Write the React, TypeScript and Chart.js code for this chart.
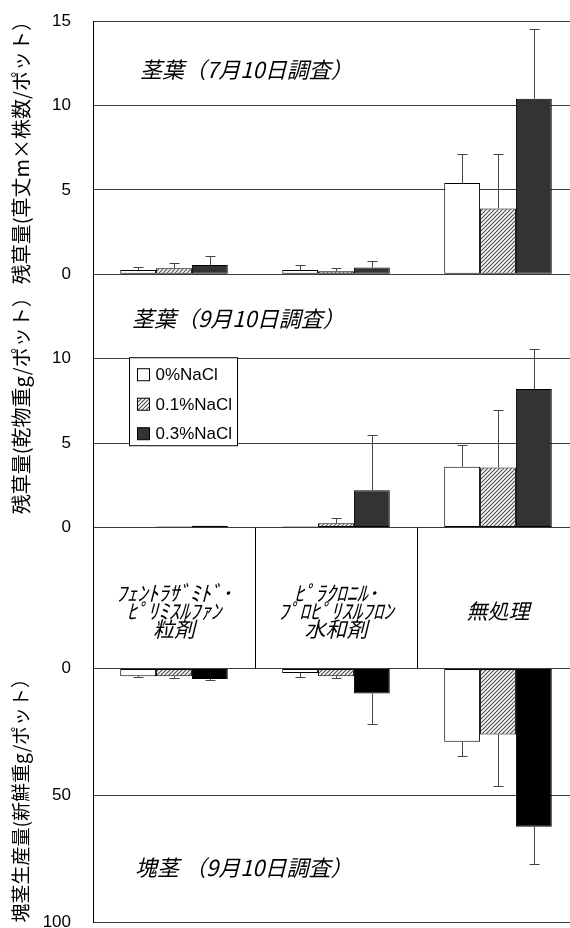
import React, { useEffect, useRef } from "react";
import { Chart, registerables } from "chart.js";

Chart.register(...registerables);

// ---- data ----
const categories: string[][] = [
  ["ﾌｪﾝﾄﾗｻﾞﾐﾄﾞ･", "ﾋﾟﾘﾐｽﾙﾌｧﾝ", "粒剤"],
  ["ﾋﾟﾗｸﾛﾆﾙ･", "ﾌﾟﾛﾋﾟﾘｽﾙﾌﾛﾝ", "水和剤"],
  ["無処理"],
];
const seriesNames = ["0%NaCl", "0.1%NaCl", "0.3%NaCl"];

// 茎葉（7月10日調査）
const julyNaCl0 = [0.25, 0.25, 5.4];
const julyNaCl1 = [0.35, 0.18, 3.9];
const julyNaCl3 = [0.55, 0.4, 10.4];
const julyErr0 = [0.2, 0.3, 1.7];
const julyErr1 = [0.3, 0.2, 3.2];
const julyErr3 = [0.5, 0.4, 4.15];

// 茎葉（9月10日調査）
const sepNaCl0 = [0.02, 0.05, 3.6];
const sepNaCl1 = [0.05, 0.25, 3.55];
const sepNaCl3 = [0.1, 2.2, 8.2];
const sepErr0 = [0, 0, 1.3];
const sepErr1 = [0, 0.3, 3.4];
const sepErr3 = [0, 3.3, 2.35];

// 塊茎（9月10日調査）
const tuberNaCl0 = [3.0, 1.7, 28.8];
const tuberNaCl1 = [3.0, 3.0, 25.9];
const tuberNaCl3 = [4.1, 9.8, 62.2];
const tuberErr0 = [0.5, 1.6, 5.4];
const tuberErr1 = [0.8, 0.8, 20.2];
const tuberErr3 = [0.2, 12.1, 14.6];

const panelTitles = ["茎葉（7月10日調査）", "茎葉（9月10日調査）", "塊茎 （9月10日調査）"];
const axisTitles = ["残草量(草丈m×株数/ポット）", "残草量(乾物重g/ポット）", "塊茎生産量(新鮮重g/ポット）"];
const topAxisMax = 15;
const midAxisMax = 15;
const leafStep = 5;
const tuberAxisMax = 100;
const tuberStep = 50;

// ---- style ----
const JP = "'Noto Sans CJK JP', 'Noto Sans', sans-serif";
const LAT = "'Liberation Sans', Arial, sans-serif";
const GRID = "#3a3a3a";

function makeHatch(): CanvasPattern | string {
  const c = document.createElement("canvas");
  c.width = 4;
  c.height = 4;
  const g = c.getContext("2d");
  if (!g) return "#999";
  g.fillStyle = "#ffffff";
  g.fillRect(0, 0, 4, 4);
  g.strokeStyle = "#4a4a4a";
  g.lineWidth = 1.1;
  g.beginPath();
  g.moveTo(-1, 5);
  g.lineTo(5, -1);
  g.moveTo(-3, 3);
  g.lineTo(3, -3);
  g.moveTo(1, 7);
  g.lineTo(7, 1);
  g.stroke();
  const p = g.createPattern(c, "repeat");
  return p || "#999";
}

const overlayPlugin = {
  id: "overlay",
  afterDatasetsDraw(chart: any) {
    const ctx: CanvasRenderingContext2D = chart.ctx;
    const area = chart.chartArea;
    // error bars
    chart.data.datasets.forEach((ds: any, i: number) => {
      const meta = chart.getDatasetMeta(i);
      const ys = chart.scales[ds.yAxisID];
      meta.data.forEach((bar: any, j: number) => {
        const v = ds.data[j];
        const e = ds.errors ? ds.errors[j] : 0;
        if (!e) return;
        const x = Math.round(bar.x) + 0.5;
        const y0 = ys.getPixelForValue(v);
        const y1 = Math.round(ys.getPixelForValue(v + e)) + 0.5;
        ctx.save();
        ctx.strokeStyle = "#444";
        ctx.lineWidth = 1;
        ctx.beginPath();
        ctx.moveTo(x, y0);
        ctx.lineTo(x, y1);
        ctx.moveTo(x - 5, y1);
        ctx.lineTo(x + 5, y1);
        ctx.stroke();
        ctx.restore();
      });
    });

    const xs = chart.scales.x;
    const band = chart.scales.band;
    const yTop = chart.scales.yTop;
    const yMid = chart.scales.yMid;
    const yTub = chart.scales.yTub;

    // band separators and category labels
    ctx.save();
    ctx.strokeStyle = "#000";
    ctx.lineWidth = 1;
    const labels: string[][] = chart.data.labels;
    for (let i = 0; i < labels.length - 1; i++) {
      const bx = Math.round((xs.getPixelForValue(i) + xs.getPixelForValue(i + 1)) / 2) + 0.5;
      ctx.beginPath();
      ctx.moveTo(bx, band.top);
      ctx.lineTo(bx, band.bottom);
      ctx.stroke();
    }
    ctx.fillStyle = "#000";
    ctx.font = `italic 21px ${JP}`;
    ctx.textAlign = "center";
    ctx.textBaseline = "middle";
    const lh = 18;
    const cy = band.top + (band.bottom - band.top) * 0.59;
    labels.forEach((lines, i) => {
      const cx = xs.getPixelForValue(i);
      const n = lines.length;
      lines.forEach((t, k) => {
        ctx.fillText(t, cx, cy + (k - (n - 1) / 2) * lh);
      });
    });

    // panel titles
    ctx.textAlign = "left";
    ctx.font = `italic 22px ${JP}`;
    ctx.fillText(panelTitles[0], area.left + 47, yTop.top + 49);
    ctx.fillText(panelTitles[1], area.left + 39, yMid.top + 44);
    ctx.fillText(panelTitles[2], area.left + 42, yTub.top + 199);

    // legend
    const lx = area.left + 36.5;
    const ly = yMid.top + 83.5;
    ctx.fillStyle = "#fff";
    ctx.fillRect(lx, ly, 108, 88);
    ctx.strokeStyle = "#000";
    ctx.strokeRect(lx, ly, 108, 88);
    ctx.font = `17px ${LAT}`;
    ctx.textBaseline = "middle";
    const legendFills = [chart.data.datasets[0].backgroundColor, chart.data.datasets[1].backgroundColor, chart.data.datasets[2].backgroundColor];
    seriesNames.forEach((name, k) => {
      const ry = ly + 17 + k * 29.5;
      ctx.fillStyle = legendFills[k];
      ctx.fillRect(lx + 8, ry - 6, 12, 12);
      ctx.strokeStyle = "#000";
      ctx.strokeRect(lx + 8, ry - 6, 12, 12);
      ctx.fillStyle = "#000";
      ctx.fillText(name, lx + 26, ry + 1);
    });
    ctx.restore();
  },
};

export default function App() {
  const ref = useRef<HTMLCanvasElement | null>(null);

  useEffect(() => {
    if (!ref.current) return;
    const hatch = makeHatch();
    const fills = ["#ffffff", hatch, "#333333"];
    const tuberFills = ["#ffffff", hatch, "#000000"];
    const mk = (label: string, data: number[], errors: number[], yAxisID: string, k: number, bg: any) => ({
      label,
      data,
      errors,
      yAxisID,
      stack: "s" + k,
      backgroundColor: bg,
      borderColor: "#000",
      borderWidth: 1,
      borderSkipped: false,
      categoryPercentage: 0.664,
      barPercentage: 1.0,
    });
    const datasets: any[] = [
      mk(seriesNames[0], julyNaCl0, julyErr0, "yTop", 0, fills[0]),
      mk(seriesNames[1], julyNaCl1, julyErr1, "yTop", 1, fills[1]),
      mk(seriesNames[2], julyNaCl3, julyErr3, "yTop", 2, fills[2]),
      mk(seriesNames[0], sepNaCl0, sepErr0, "yMid", 0, fills[0]),
      mk(seriesNames[1], sepNaCl1, sepErr1, "yMid", 1, fills[1]),
      mk(seriesNames[2], sepNaCl3, sepErr3, "yMid", 2, fills[2]),
      mk(seriesNames[0], tuberNaCl0, tuberErr0, "yTub", 0, tuberFills[0]),
      mk(seriesNames[1], tuberNaCl1, tuberErr1, "yTub", 1, tuberFills[1]),
      mk(seriesNames[2], tuberNaCl3, tuberErr3, "yTub", 2, tuberFills[2]),
    ];

    const fit = (s: any) => {
      s.width = 93;
    };
    const tickFont = { family: LAT, size: 17 };
    const titleOpt = (text: string, size: number) => ({
      display: true,
      text,
      color: "#000",
      font: { family: JP, size },
      padding: { top: 9, bottom: 0 },
    });
    const yBase = (text: string, size: number) => ({
      type: "linear",
      position: "left",
      stack: "panels",
      stacked: false,
      border: { display: true, color: "#000", width: 1 },
      grid: {
        color: GRID,
        drawTicks: true,
        tickLength: 22,
        tickColor: "rgba(0,0,0,0)",
        lineWidth: 1,
      },
      title: titleOpt(text, size),
      afterFit: fit,
    });

    const chart = new Chart(ref.current, {
      type: "bar",
      data: { labels: categories as any, datasets },
      options: {
        responsive: false,
        animation: false,
        devicePixelRatio: 1,
        events: [],
        layout: { padding: { top: 21, left: 0, right: 0, bottom: 0 } },
        plugins: { legend: { display: false }, tooltip: { enabled: false } },
        scales: {
          x: { type: "category", display: false, offset: true },
          yTop: {
            ...yBase(axisTitles[0], 20),
            weight: 4,
            stackWeight: 253,
            min: 0,
            max: topAxisMax,
            ticks: { stepSize: leafStep, padding: 0, color: "#000", font: tickFont },
          },
          yMid: {
            ...yBase(axisTitles[1], 20),
            weight: 3,
            stackWeight: 253,
            min: 0,
            max: midAxisMax,
            ticks: {
              stepSize: leafStep,
              padding: 0,
              color: "#000",
              font: tickFont,
              callback: (v: any) => (v === midAxisMax ? "" : v),
            },
          },
          band: {
            type: "linear",
            position: "left",
            stack: "panels",
            weight: 2,
            stackWeight: 141,
            min: 0,
            max: 1,
            border: { display: true, color: "#000", width: 1 },
            grid: { display: false },
            ticks: { display: false, padding: 0 },
            afterFit: fit,
          },
          yTub: {
            ...yBase(axisTitles[2], 19),
            weight: 1,
            stackWeight: 254,
            min: 0,
            max: tuberAxisMax,
            reverse: true,
            ticks: { stepSize: tuberStep, padding: 0, color: "#000", font: tickFont },
          },
        } as any,
      },
      plugins: [overlayPlugin],
    } as any);
    return () => chart.destroy();
  }, []);

  return (
    <div
      style={{
        position: "fixed",
        left: 0,
        top: 0,
        width: 570,
        height: 928,
        overflow: "hidden",
        background: "#fff",
      }}
    >
      <canvas ref={ref} width={579} height={933} style={{ width: 579, height: 933, display: "block" }} />
    </div>
  );
}
